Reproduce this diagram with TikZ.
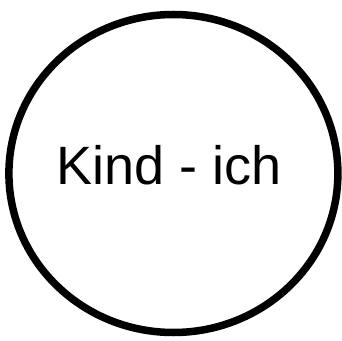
\documentclass[tikz,border=0pt]{standalone}
\usepackage{fontspec}
\setmainfont{Liberation Sans}
\begin{document}
\begin{tikzpicture}[x=1pt,y=1pt,
  ring/.style={draw=black,line width=7.5pt},
  lbl/.style={font=\fontsize{54}{60}\selectfont,inner sep=0pt,anchor=base}]
\useasboundingbox (0,0) rectangle (342,340);
\draw[ring] (173.4,166.5) ellipse [x radius=164.5, y radius=159];
\node[lbl] (t) at (169.5,155) {Kind - ich};
\end{tikzpicture}
\end{document}
